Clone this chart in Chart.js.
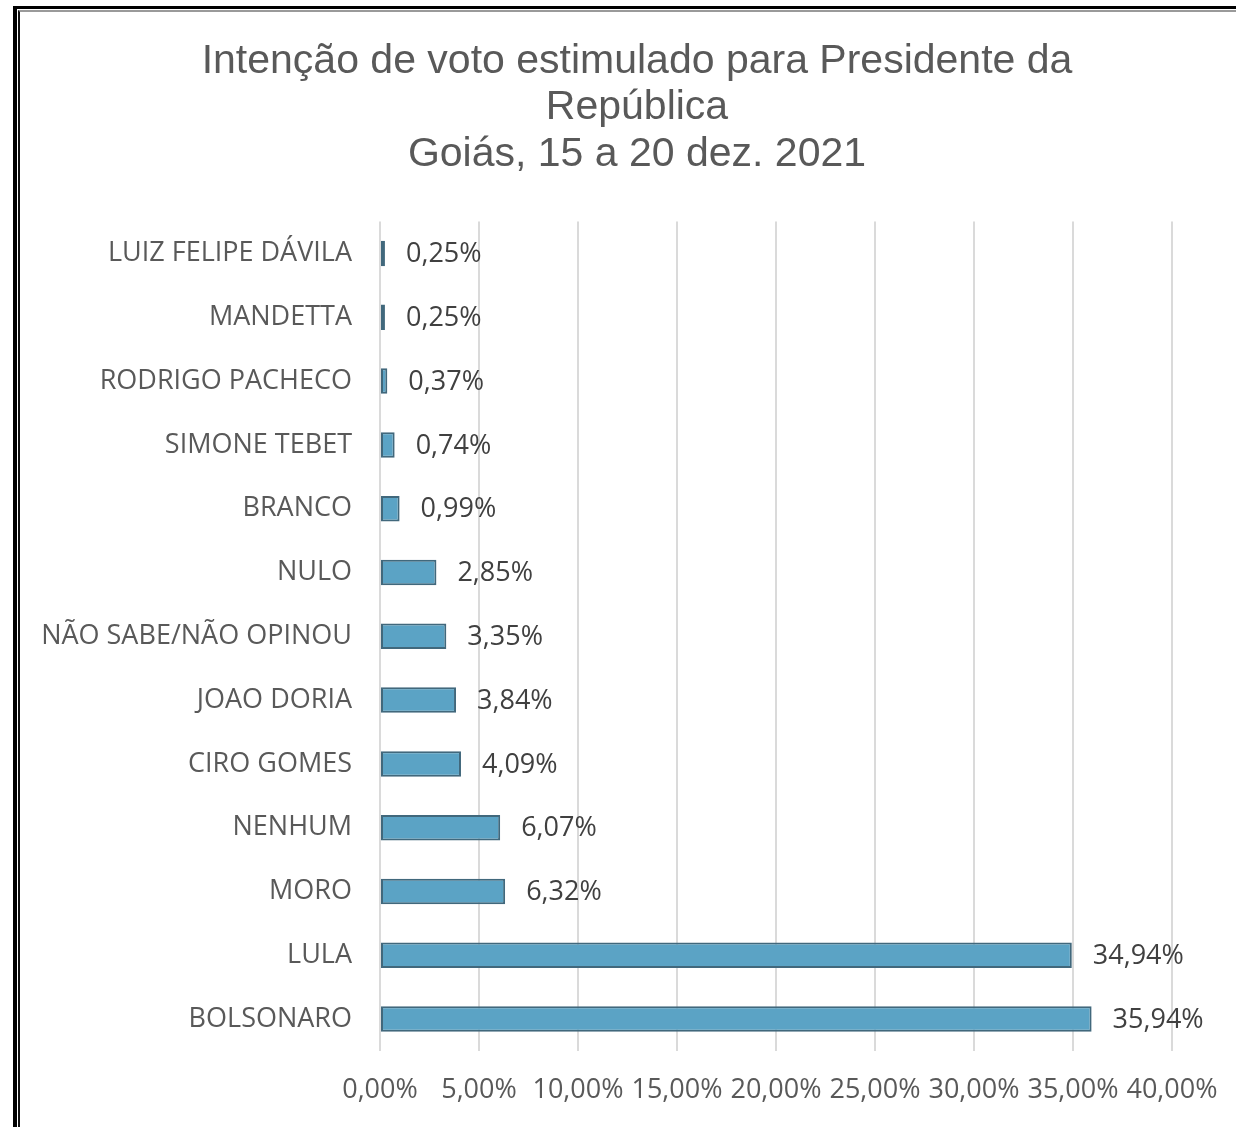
<!DOCTYPE html>
<html>
<head>
<meta charset="utf-8">
<script src="https://cdn.jsdelivr.net/npm/chart.js@4/dist/chart.umd.min.js"></script>
<style>
  html, body { margin: 0; padding: 0; background: #fff; }
  #wrap { position: absolute; left: 0; top: 0; width: 1236px; height: 1127px; }
  .frame-outer { position: absolute; left: 13px; top: 6px; right: -10px; bottom: -10px;
                 border-left: 4px solid #000; border-top: 3px solid #000; pointer-events: none; }
  .frame-inner { position: absolute; left: 18px; top: 10px; right: -10px; bottom: -10px;
                 border-left: 2px solid #111; border-top: 2px solid #9a9a9a; pointer-events: none; }
</style>
</head>
<body>
<div id="wrap">
  <canvas id="chart"></canvas>
</div>
<div class="frame-outer"></div>
<div class="frame-inner"></div>
<script>
// Intenção de voto estimulado - Goiás, dez. 2021
const categories = [
    'LUIZ FELIPE DÁVILA',
    'MANDETTA',
    'RODRIGO PACHECO',
    'SIMONE TEBET',
    'BRANCO',
    'NULO',
    'NÃO SABE/NÃO OPINOU',
    'JOAO DORIA',
    'CIRO GOMES',
    'NENHUM',
    'MORO',
    'LULA',
    'BOLSONARO'
];
const votePercent = [0.25, 0.25, 0.37, 0.74, 0.99, 2.85, 3.35, 3.84, 4.09, 6.07, 6.32, 34.94, 35.94];
const titleLines = ['Intenção de voto estimulado para Presidente da', 'República', 'Goiás, 15 a 20 dez. 2021'];

function fmtPct(v) {
    return v.toFixed(2).replace('.', ',') + '%';
}

// draws the value next to each bar
const barLabels = {
    id: 'barLabels',
    afterDatasetsDraw(chart) {
        const ctx = chart.ctx;
        const meta = chart.getDatasetMeta(0);
        ctx.save();
        ctx.font = '27px "Open Sans"';
        ctx.fillStyle = '#404040';
        ctx.textAlign = 'left';
        ctx.textBaseline = 'middle';
        meta.data.forEach((bar, i) => {
            ctx.fillText(fmtPct(votePercent[i]), bar.x + 21, bar.y + 1);
        });
        ctx.restore();
    }
};

new Chart(document.getElementById('chart'), {
    type: 'bar',
    data: {
        labels: categories,
        datasets: [{
            data: votePercent,
            backgroundColor: '#5ba3c5',
            borderColor: '#41687c',
            borderWidth: 2,
            borderSkipped: false,
            categoryPercentage: 1,
            barPercentage: 0.4
        }]
    },
    options: {
        indexAxis: 'y',
        responsive: true,
        maintainAspectRatio: false,
        animation: false,
        layout: { padding: { left: 38, right: 0, top: 0, bottom: 0 } },
        scales: {
            x: {
                min: 0,
                max: 40,
                ticks: {
                    stepSize: 5,
                    padding: 23,
                    color: '#595959',
                    font: { family: 'Open Sans', size: 27 },
                    callback: v => fmtPct(v)
                },
                grid: { color: '#dadada', lineWidth: 2, drawTicks: false },
                border: { display: false },
                afterFit: s => {
                    s.height = 76;
                    s.paddingLeft = 0;
                    s.paddingRight = 0;
                }
            },
            y: {
                ticks: {
                    padding: 28,
                    color: '#595959',
                    font: { family: 'Open Sans', size: 27 }
                },
                grid: { display: false, drawTicks: false },
                border: { display: false },
                afterFit: s => { s.width = 342; }
            },
            yRight: {
                type: 'category',
                position: 'right',
                ticks: { display: false },
                grid: { display: false, drawTicks: false },
                border: { display: false },
                afterFit: s => { s.width = 64; }
            }
        },
        plugins: {
            legend: { display: false },
            tooltip: { enabled: false },
            title: {
                display: true,
                text: titleLines,
                color: '#595959',
                font: { family: 'Liberation Sans', size: 41, weight: 'normal', lineHeight: 1.135 },
                padding: { top: 38, bottom: 44 }
            }
        }
    },
    plugins: [barLabels]
});
</script>
</body>
</html>
